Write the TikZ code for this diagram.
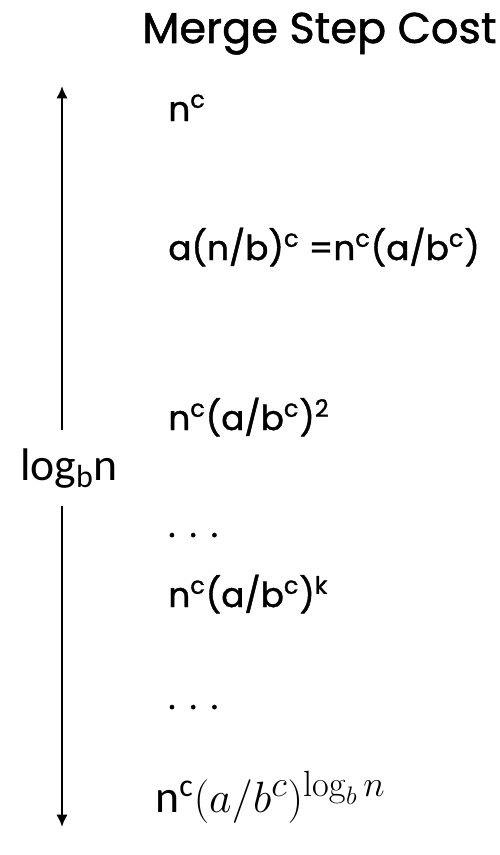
\documentclass[tikz,border=0pt]{standalone}
\usepackage[no-math]{fontspec}
\setmainfont{Poppins}[BoldFont=Poppins, BoldFeatures={FakeBold=1.2}]
\newfontfamily\calfont{Carlito}
\usetikzlibrary{arrows.meta}

\tikzset{
  costline/.style={anchor=base west, inner sep=0pt, font=\bfseries\fontsize{19.5}{23}\selectfont},
  calline/.style={anchor=base west, inner sep=0pt, font=\calfont\fontsize{26}{30}\selectfont}
}

\begin{document}
\begin{tikzpicture}[x=0.02cm, y=-0.02cm, >={Latex[length=7pt,width=6.5pt]}]
    % 1. Page frame
    \useasboundingbox (0,0) rectangle (500,855);

    % 2. Title
    \node[anchor=base west, inner sep=0pt, font=\bfseries\fontsize{24.5}{28}\selectfont] (title) at (142,43) {Merge Step Cost};

    % 3. Cost of each level
    \node[costline] (lvlzero) at (168,121) {n\textsuperscript{c}};
    \node[costline] (lvlone) at (168,260) {a(n/b)\textsuperscript{c} =n\textsuperscript{c}(a/b\textsuperscript{c})};
    \node[costline] (lvltwo) at (168,430) {n\textsuperscript{c}(a/b\textsuperscript{c})\textsuperscript{2}};
    \node[costline] (dotsone) at (168,537) {.\hskip 8pt.\hskip 8pt.};
    \node[costline] (lvlk) at (168,607) {n\textsuperscript{c}(a/b\textsuperscript{c})\textsuperscript{k}};
    \node[costline] (dotstwo) at (168,709) {.\hskip 8pt.\hskip 8pt.};
    \node[calline] (lvllast) at (155,812) {n\textsuperscript{c}{\fontsize{30}{34}\selectfont$(a/b^{c})^{\log_b n}$}};

    % 4. Height of the tree
    \coordinate (top) at (62,86);
    \coordinate (bottom) at (62,827);
    \node[anchor=base, inner xsep=0pt, inner ysep=10pt, font=\calfont\fontsize{26}{30}\selectfont] (height) at (69,480) {log\textsubscript{b}n};
    \draw[->, line width=1.5pt] (height.north -| top) -- (top);
    \draw[->, line width=1.5pt] (height.south -| bottom) -- (bottom);
\end{tikzpicture}
\end{document}
